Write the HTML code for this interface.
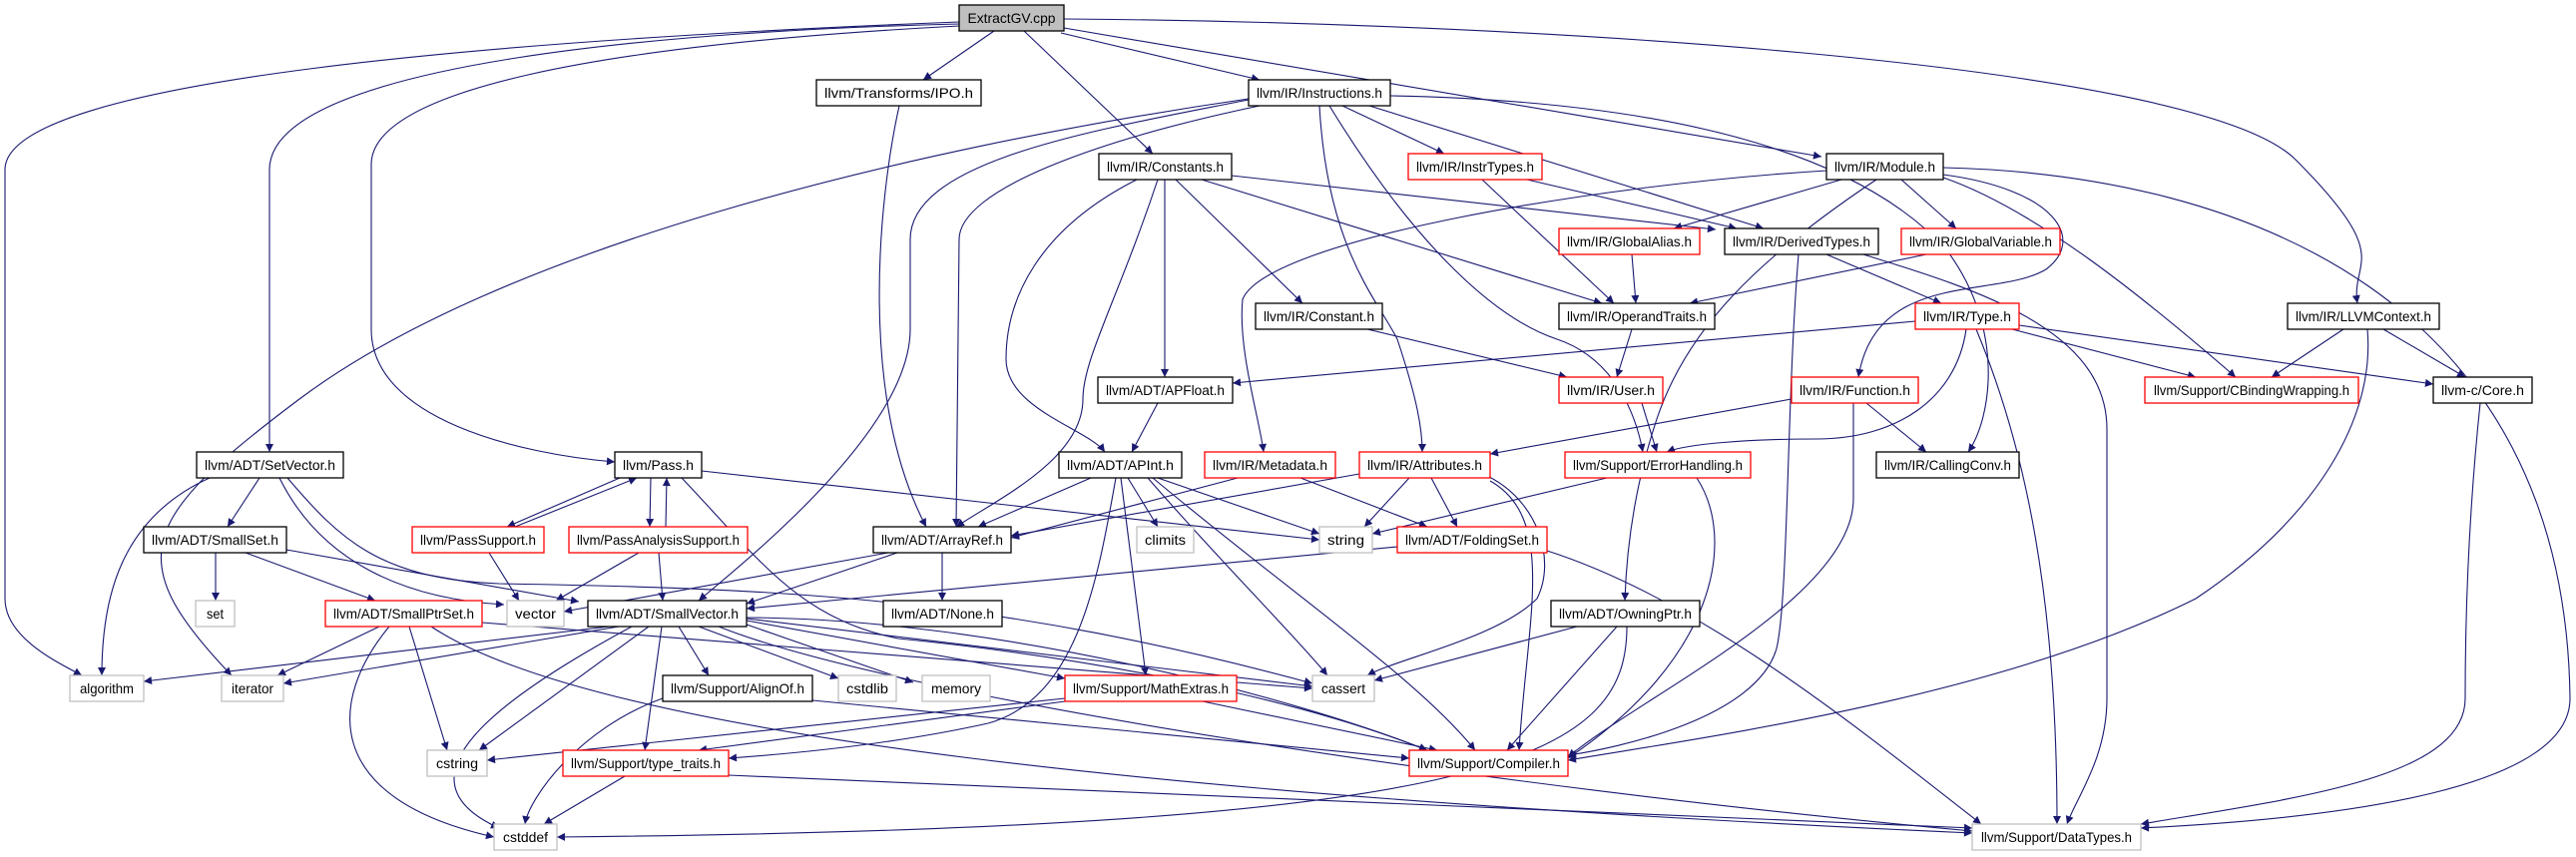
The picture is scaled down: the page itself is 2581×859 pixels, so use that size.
<!DOCTYPE html>
<html><head><meta charset="utf-8"><style>
html,body{margin:0;padding:0;background:#fff;}
svg{display:block;}
text{font-family:"Liberation Sans",sans-serif;font-size:14px;fill:#000;}
.e{fill:none;stroke:#191970;stroke-width:1.1;marker-end:url(#a);}
.n{fill:#fff;stroke:#000;stroke-width:1.3;}
.r{fill:#fff;stroke:#ff0000;stroke-width:1.3;}
.g{fill:#fff;stroke:#bfbfbf;stroke-width:1.3;}
</style></head><body>
<svg width="2581" height="859" viewBox="0 0 2581 859" xmlns="http://www.w3.org/2000/svg">
<defs><marker id="a" viewBox="0 0 10 10" refX="10" refY="5" markerWidth="10" markerHeight="8" markerUnits="userSpaceOnUse" orient="auto"><path d="M0,0 L10,5 L0,10 z" fill="#191970"/></marker></defs>
<g>
<path class="e" d="M996,31 L925,80"/>
<path class="e" d="M1026,31 L1155,154"/>
<path class="e" d="M1063,33 L1262,80"/>
<path class="e" d="M1066,28 L1825,157"/>
<path class="e" d="M1066,19 C1500,22 2200,60 2300,160 S2355,260 2362,304"/>
<path class="e" d="M961,22 C500,40 5,80 5,170 L5,600 C5,640 60,665 82,677"/>
<path class="e" d="M961,24 C700,30 270,60 270,170 L270,453"/>
<path class="e" d="M961,26 C600,45 372,90 372,165 L372,330 C372,420 520,455 616,463"/>
<path class="e" d="M901,106 C880,200 860,400 928,528"/>
<path class="e" d="M1251,99 C900,150 500,250 300,400 C140,520 120,560 232,677"/>
<path class="e" d="M1251,100 C1100,130 912,160 912,240 L912,330 C912,430 750,560 700,602"/>
<path class="e" d="M1262,106 C1100,140 961,190 961,240 L958,528"/>
<path class="e" d="M1345,106 L1447,154"/>
<path class="e" d="M1372,106 L1767,229"/>
<path class="e" d="M1322,106 C1330,250 1380,300 1400,340 C1420,400 1425,430 1425,453"/>
<path class="e" d="M1332,106 C1420,250 1500,320 1560,340 C1620,360 1640,420 1646,453"/>
<path class="e" d="M1393,96 C1600,100 1840,130 1950,250 C2010,330 1995,420 1972,453"/>
<path class="e" d="M1234,176 L1719,230"/>
<path class="e" d="M1204,180 L1605,304"/>
<path class="e" d="M1178,180 L1305,304"/>
<path class="e" d="M1167,180 L1167,378"/>
<path class="e" d="M1139,180 C1040,230 1008,300 1008,360 C1008,410 1090,430 1107,453"/>
<path class="e" d="M1160,180 C1120,300 1085,360 1085,400 C1085,460 1000,500 958,528"/>
<path class="e" d="M1160,404 L1134,453"/>
<path class="e" d="M1485,180 L1617,304"/>
<path class="e" d="M1530,180 L1740,229"/>
<path class="e" d="M1845,180 L1677,229"/>
<path class="e" d="M1905,180 L1960,229"/>
<path class="e" d="M1830,171 C1600,185 1270,240 1245,300 C1240,350 1262,420 1266,453"/>
<path class="e" d="M1947,175 C2060,190 2090,240 2050,270 C2000,300 1880,270 1862,378"/>
<path class="e" d="M1947,178 C2040,210 2150,300 2240,378"/>
<path class="e" d="M1947,168 C2250,175 2570,300 2575,700 C2575,790 2350,820 2145,830"/>
<path class="e" d="M1880,180 C1760,260 1690,330 1660,420 C1640,480 1630,540 1628,602"/>
<path class="e" d="M1830,255 L1945,304"/>
<path class="e" d="M1802,255 C1790,400 1792,600 1780,650 C1760,720 1620,750 1571,757"/>
<path class="e" d="M1867,255 C1980,290 2111,330 2111,430 L2111,700 C2111,760 2080,800 2071,826"/>
<path class="e" d="M1930,255 L1693,304"/>
<path class="e" d="M1635,255 L1639,304"/>
<path class="e" d="M1370,330 L1570,378"/>
<path class="e" d="M1635,330 L1620,378"/>
<path class="e" d="M1919,322 L1235,384"/>
<path class="e" d="M1970,330 C1960,400 1900,440 1820,440 C1750,440 1690,445 1670,453"/>
<path class="e" d="M1980,330 C2030,450 2061,600 2061,826"/>
<path class="e" d="M2016,330 L2200,378"/>
<path class="e" d="M2023,326 L2438,385"/>
<path class="e" d="M2348,330 L2276,378"/>
<path class="e" d="M2388,330 L2470,378"/>
<path class="e" d="M2372,330 C2380,420 2320,520 2200,600 C2000,700 1700,740 1571,762"/>
<path class="e" d="M2485,404 C2475,500 2470,600 2470,700 C2470,780 2300,800 2145,826"/>
<path class="e" d="M1795,400 L1493,455"/>
<path class="e" d="M1870,404 L1930,453"/>
<path class="e" d="M1857,404 L1857,500 C1857,600 1640,700 1571,759"/>
<path class="e" d="M1645,404 L1660,453"/>
<path class="e" d="M1610,479 L1375,535"/>
<path class="e" d="M1700,479 C1740,540 1720,660 1571,760"/>
<path class="e" d="M1362,475 L1013,537"/>
<path class="e" d="M1412,479 L1367,528"/>
<path class="e" d="M1434,479 L1460,528"/>
<path class="e" d="M1488,476 C1540,500 1560,560 1540,600 C1500,640 1400,660 1370,677"/>
<path class="e" d="M1493,482 C1560,520 1530,620 1522,752"/>
<path class="e" d="M1240,479 L1013,539"/>
<path class="e" d="M1303,479 L1430,528"/>
<path class="e" d="M1093,479 L980,528"/>
<path class="e" d="M1130,479 L1160,528"/>
<path class="e" d="M1160,479 L1322,535"/>
<path class="e" d="M1150,479 C1220,560 1300,640 1330,677"/>
<path class="e" d="M1155,479 C1300,600 1420,680 1478,752"/>
<path class="e" d="M1123,479 L1148,677"/>
<path class="e" d="M1118,479 C1100,580 1080,700 990,725 C900,745 800,755 730,760"/>
<path class="e" d="M890,554 L565,613"/>
<path class="e" d="M899,554 L748,605"/>
<path class="e" d="M944,554 L944,602"/>
<path class="e" d="M1400,548 L748,610"/>
<path class="e" d="M1550,552 C1700,600 1850,720 1985,826"/>
<path class="e" d="M210,479 C120,520 102,600 102,677"/>
<path class="e" d="M260,479 L228,528"/>
<path class="e" d="M280,479 C320,560 400,600 505,606"/>
<path class="e" d="M288,479 C340,540 380,580 500,585 C800,590 1000,600 1315,685"/>
<path class="e" d="M216,554 L216,602"/>
<path class="e" d="M246,554 L376,602"/>
<path class="e" d="M287,551 L580,603"/>
<path class="e" d="M621,479 L508,528"/>
<path class="e" d="M516,528 L638,479"/>
<path class="e" d="M652,479 L651,528"/>
<path class="e" d="M667,528 L668,479"/>
<path class="e" d="M703,472 L1322,541"/>
<path class="e" d="M683,479 C760,560 800,620 900,640 C1100,660 1300,700 1430,752"/>
<path class="e" d="M490,554 L520,602"/>
<path class="e" d="M640,554 L557,602"/>
<path class="e" d="M660,554 L664,602"/>
<path class="e" d="M380,628 L278,677"/>
<path class="e" d="M410,628 L448,752"/>
<path class="e" d="M390,628 C330,700 320,800 495,839"/>
<path class="e" d="M432,628 C600,740 1200,800 1976,835"/>
<path class="e" d="M483,624 L1315,690"/>
<path class="e" d="M610,628 L144,683"/>
<path class="e" d="M620,628 L284,685"/>
<path class="e" d="M650,628 L480,752"/>
<path class="e" d="M633,628 C500,700 390,780 500,830"/>
<path class="e" d="M663,628 L646,752"/>
<path class="e" d="M680,628 L710,677"/>
<path class="e" d="M700,628 L840,680"/>
<path class="e" d="M748,626 L915,684"/>
<path class="e" d="M748,622 L1067,680"/>
<path class="e" d="M748,620 L1315,688"/>
<path class="e" d="M748,619 C1000,620 1300,700 1430,752"/>
<path class="e" d="M720,628 C900,700 1500,790 1976,833"/>
<path class="e" d="M664,700 C580,730 530,800 526,826"/>
<path class="e" d="M814,702 L1412,760"/>
<path class="e" d="M1067,700 L488,762"/>
<path class="e" d="M1067,703 L700,752"/>
<path class="e" d="M1205,703 L1440,752"/>
<path class="e" d="M626,778 L545,826"/>
<path class="e" d="M730,777 L1976,830"/>
<path class="e" d="M1580,628 L1377,682"/>
<path class="e" d="M1620,628 L1510,752"/>
<path class="e" d="M1630,628 C1630,760 1500,830 558,839"/>
</g>
<g>
<rect x="961" y="5" width="105" height="26" style="fill:#bfbfbf;stroke:#000;stroke-width:1.3"/><text x="1013.5" y="23" text-anchor="middle" textLength="88" lengthAdjust="spacingAndGlyphs">ExtractGV.cpp</text>
<rect class="n" x="818" y="80" width="165" height="26"/><text x="900.5" y="98" text-anchor="middle" textLength="149" lengthAdjust="spacingAndGlyphs">llvm/Transforms/IPO.h</text>
<rect class="n" x="1251" y="80" width="142" height="26"/><text x="1322" y="98" text-anchor="middle" textLength="126" lengthAdjust="spacingAndGlyphs">llvm/IR/Instructions.h</text>
<rect class="n" x="1101" y="154" width="133" height="26"/><text x="1167.5" y="172" text-anchor="middle" textLength="117" lengthAdjust="spacingAndGlyphs">llvm/IR/Constants.h</text>
<rect class="r" x="1411" y="154" width="134" height="26"/><text x="1478" y="172" text-anchor="middle" textLength="118" lengthAdjust="spacingAndGlyphs">llvm/IR/InstrTypes.h</text>
<rect class="n" x="1830" y="154" width="117" height="26"/><text x="1888.5" y="172" text-anchor="middle" textLength="101" lengthAdjust="spacingAndGlyphs">llvm/IR/Module.h</text>
<rect class="r" x="1562" y="229" width="141" height="26"/><text x="1632.5" y="247" text-anchor="middle" textLength="125" lengthAdjust="spacingAndGlyphs">llvm/IR/GlobalAlias.h</text>
<rect class="n" x="1728" y="229" width="154" height="26"/><text x="1805" y="247" text-anchor="middle" textLength="138" lengthAdjust="spacingAndGlyphs">llvm/IR/DerivedTypes.h</text>
<rect class="r" x="1905" y="229" width="159" height="26"/><text x="1984.5" y="247" text-anchor="middle" textLength="143" lengthAdjust="spacingAndGlyphs">llvm/IR/GlobalVariable.h</text>
<rect class="n" x="1258" y="304" width="127" height="26"/><text x="1321.5" y="322" text-anchor="middle" textLength="111" lengthAdjust="spacingAndGlyphs">llvm/IR/Constant.h</text>
<rect class="n" x="1562" y="304" width="156" height="26"/><text x="1640" y="322" text-anchor="middle" textLength="140" lengthAdjust="spacingAndGlyphs">llvm/IR/OperandTraits.h</text>
<rect class="r" x="1919" y="304" width="104" height="26"/><text x="1971" y="322" text-anchor="middle" textLength="88" lengthAdjust="spacingAndGlyphs">llvm/IR/Type.h</text>
<rect class="n" x="2292" y="304" width="152" height="26"/><text x="2368" y="322" text-anchor="middle" textLength="136" lengthAdjust="spacingAndGlyphs">llvm/IR/LLVMContext.h</text>
<rect class="n" x="1100" y="378" width="135" height="26"/><text x="1167.5" y="396" text-anchor="middle" textLength="119" lengthAdjust="spacingAndGlyphs">llvm/ADT/APFloat.h</text>
<rect class="r" x="1562" y="378" width="104" height="26"/><text x="1614" y="396" text-anchor="middle" textLength="88" lengthAdjust="spacingAndGlyphs">llvm/IR/User.h</text>
<rect class="r" x="1795" y="378" width="127" height="26"/><text x="1858.5" y="396" text-anchor="middle" textLength="111" lengthAdjust="spacingAndGlyphs">llvm/IR/Function.h</text>
<rect class="r" x="2149" y="378" width="214" height="26"/><text x="2256" y="396" text-anchor="middle" textLength="196" lengthAdjust="spacingAndGlyphs">llvm/Support/CBindingWrapping.h</text>
<rect class="n" x="2438" y="378" width="99" height="26"/><text x="2487.5" y="396" text-anchor="middle" textLength="83" lengthAdjust="spacingAndGlyphs">llvm-c/Core.h</text>
<rect class="n" x="197" y="453" width="147" height="26"/><text x="270.5" y="471" text-anchor="middle" textLength="131" lengthAdjust="spacingAndGlyphs">llvm/ADT/SetVector.h</text>
<rect class="n" x="616" y="453" width="87" height="26"/><text x="659.5" y="471" text-anchor="middle" textLength="71" lengthAdjust="spacingAndGlyphs">llvm/Pass.h</text>
<rect class="n" x="1061" y="453" width="123" height="26"/><text x="1122.5" y="471" text-anchor="middle" textLength="107" lengthAdjust="spacingAndGlyphs">llvm/ADT/APInt.h</text>
<rect class="r" x="1207" y="453" width="131" height="26"/><text x="1272.5" y="471" text-anchor="middle" textLength="115" lengthAdjust="spacingAndGlyphs">llvm/IR/Metadata.h</text>
<rect class="r" x="1362" y="453" width="131" height="26"/><text x="1427.5" y="471" text-anchor="middle" textLength="115" lengthAdjust="spacingAndGlyphs">llvm/IR/Attributes.h</text>
<rect class="r" x="1568" y="453" width="186" height="26"/><text x="1661" y="471" text-anchor="middle" textLength="170" lengthAdjust="spacingAndGlyphs">llvm/Support/ErrorHandling.h</text>
<rect class="n" x="1880" y="453" width="143" height="26"/><text x="1951.5" y="471" text-anchor="middle" textLength="127" lengthAdjust="spacingAndGlyphs">llvm/IR/CallingConv.h</text>
<rect class="n" x="144" y="528" width="143" height="26"/><text x="215.5" y="546" text-anchor="middle" textLength="127" lengthAdjust="spacingAndGlyphs">llvm/ADT/SmallSet.h</text>
<rect class="r" x="413" y="528" width="132" height="26"/><text x="479" y="546" text-anchor="middle" textLength="116" lengthAdjust="spacingAndGlyphs">llvm/PassSupport.h</text>
<rect class="r" x="570" y="528" width="179" height="26"/><text x="659.5" y="546" text-anchor="middle" textLength="163" lengthAdjust="spacingAndGlyphs">llvm/PassAnalysisSupport.h</text>
<rect class="n" x="875" y="528" width="138" height="26"/><text x="944" y="546" text-anchor="middle" textLength="122" lengthAdjust="spacingAndGlyphs">llvm/ADT/ArrayRef.h</text>
<rect class="g" x="1139" y="528" width="57" height="26"/><text x="1167.5" y="546" text-anchor="middle" textLength="41" lengthAdjust="spacingAndGlyphs">climits</text>
<rect class="g" x="1322" y="528" width="53" height="26"/><text x="1348.5" y="546" text-anchor="middle" textLength="37" lengthAdjust="spacingAndGlyphs">string</text>
<rect class="r" x="1400" y="528" width="150" height="26"/><text x="1475" y="546" text-anchor="middle" textLength="134" lengthAdjust="spacingAndGlyphs">llvm/ADT/FoldingSet.h</text>
<rect class="g" x="196" y="602" width="39" height="26"/><text x="215.5" y="620" text-anchor="middle" textLength="17" lengthAdjust="spacingAndGlyphs">set</text>
<rect class="r" x="326" y="602" width="157" height="26"/><text x="404.5" y="620" text-anchor="middle" textLength="141" lengthAdjust="spacingAndGlyphs">llvm/ADT/SmallPtrSet.h</text>
<rect class="g" x="508" y="602" width="57" height="26"/><text x="536.5" y="620" text-anchor="middle" textLength="41" lengthAdjust="spacingAndGlyphs">vector</text>
<rect class="n" x="589" y="602" width="159" height="26"/><text x="668.5" y="620" text-anchor="middle" textLength="143" lengthAdjust="spacingAndGlyphs">llvm/ADT/SmallVector.h</text>
<rect class="n" x="885" y="602" width="119" height="26"/><text x="944.5" y="620" text-anchor="middle" textLength="103" lengthAdjust="spacingAndGlyphs">llvm/ADT/None.h</text>
<rect class="n" x="1554" y="602" width="149" height="26"/><text x="1628.5" y="620" text-anchor="middle" textLength="133" lengthAdjust="spacingAndGlyphs">llvm/ADT/OwningPtr.h</text>
<rect class="g" x="70" y="677" width="74" height="26"/><text x="107" y="695" text-anchor="middle" textLength="54" lengthAdjust="spacingAndGlyphs">algorithm</text>
<rect class="g" x="222" y="677" width="62" height="26"/><text x="253" y="695" text-anchor="middle" textLength="42" lengthAdjust="spacingAndGlyphs">iterator</text>
<rect class="n" x="664" y="677" width="150" height="26"/><text x="739" y="695" text-anchor="middle" textLength="134" lengthAdjust="spacingAndGlyphs">llvm/Support/AlignOf.h</text>
<rect class="g" x="840" y="677" width="58" height="26"/><text x="869" y="695" text-anchor="middle" textLength="42" lengthAdjust="spacingAndGlyphs">cstdlib</text>
<rect class="g" x="924" y="677" width="68" height="26"/><text x="958" y="695" text-anchor="middle" textLength="50" lengthAdjust="spacingAndGlyphs">memory</text>
<rect class="r" x="1067" y="677" width="172" height="26"/><text x="1153" y="695" text-anchor="middle" textLength="156" lengthAdjust="spacingAndGlyphs">llvm/Support/MathExtras.h</text>
<rect class="g" x="1315" y="677" width="62" height="26"/><text x="1346" y="695" text-anchor="middle" textLength="44" lengthAdjust="spacingAndGlyphs">cassert</text>
<rect class="g" x="428" y="752" width="60" height="26"/><text x="458" y="770" text-anchor="middle" textLength="42" lengthAdjust="spacingAndGlyphs">cstring</text>
<rect class="r" x="564" y="752" width="166" height="26"/><text x="647" y="770" text-anchor="middle" textLength="150" lengthAdjust="spacingAndGlyphs">llvm/Support/type_traits.h</text>
<rect class="r" x="1412" y="752" width="159" height="26"/><text x="1491.5" y="770" text-anchor="middle" textLength="143" lengthAdjust="spacingAndGlyphs">llvm/Support/Compiler.h</text>
<rect class="g" x="495" y="826" width="63" height="26"/><text x="526.5" y="844" text-anchor="middle" textLength="45" lengthAdjust="spacingAndGlyphs">cstddef</text>
<rect class="g" x="1976" y="826" width="169" height="26"/><text x="2060.5" y="844" text-anchor="middle" textLength="151" lengthAdjust="spacingAndGlyphs">llvm/Support/DataTypes.h</text>
</g>
</svg>
</body></html>
